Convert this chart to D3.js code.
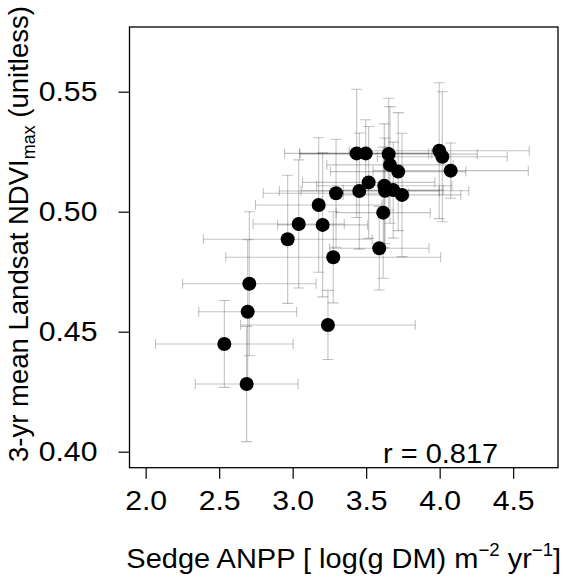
<!DOCTYPE html>
<html>
<head>
<meta charset="utf-8">
<script src="https://cdn.jsdelivr.net/npm/d3@7"></script>
<style>
  html, body { margin: 0; padding: 0; background: #fff; }
  svg text { font-family: "Liberation Sans", Arial, Helvetica, sans-serif; fill: #000; }
</style>
</head>
<body>
<svg id="chart" width="563" height="580"></svg>
<script>
// Sedge ANPP (log g DM m^-2 yr^-1), means
const anpp = [2.535, 2.687, 2.694, 2.705, 2.966, 3.041, 3.204, 3.177, 3.295, 3.276, 3.240,
              3.435, 3.497, 3.653, 3.997, 4.018, 3.662, 3.718, 4.075, 3.517, 3.623, 3.628,
              3.684, 3.744, 3.453, 3.616, 3.589];
// horizontal error (± SD)
const anppErr = [0.468, 0.350, 0.333, 0.454, 0.574, 0.310, 0.306, 0.430, 0.495, 0.731, 0.594,
                 0.490, 0.450, 0.603, 0.612, 0.442, 0.430, 0.460, 0.528, 0.450, 0.460, 0.570,
                 0.340, 0.400, 0.544, 0.320, 0.338];
// 3-yr mean Landsat NDVImax
const ndvi = [0.4449, 0.4282, 0.4583, 0.4700, 0.4885, 0.4949, 0.4945, 0.5028, 0.5077, 0.4810, 0.4528,
              0.5243, 0.5243, 0.5240, 0.5254, 0.5229, 0.5195, 0.5167, 0.5171, 0.5122, 0.5108, 0.5087,
              0.5090, 0.5070, 0.5086, 0.4996, 0.4848];
// vertical error (± SD)
const ndviErr = [0.0181, 0.0240, 0.0300, 0.0300, 0.0267, 0.0267, 0.0300, 0.0280, 0.0225, 0.0190, 0.0144,
                 0.0267, 0.0140, 0.0233, 0.0283, 0.0271, 0.0243, 0.0246, 0.0115, 0.0233, 0.0258, 0.0220,
                 0.0200, 0.0257, 0.0242, 0.0273, 0.0174];
const xTicks = [2.0, 2.5, 3.0, 3.5, 4.0, 4.5];
const yTicks = [0.40, 0.45, 0.50, 0.55];
const rLabel = "r = 0.817";

const data = anpp.map((v, i) => ({x: v, y: ndvi[i], xe: anppErr[i], ye: ndviErr[i]}));

const svg = d3.select("#chart");
const pL = 129.5, pR = 558, pT = 27, pB = 467.7;

const x = d3.scaleLinear().domain([1.89, 4.805]).range([pL, pR]);
const y = d3.scaleLinear().domain([0.39333, 0.57696]).range([pB, pT]);

svg.append("defs").append("clipPath").attr("id", "clip")
  .append("rect").attr("x", pL).attr("y", pT).attr("width", pR - pL).attr("height", pB - pT);

const eb = svg.append("g").attr("clip-path", "url(#clip)")
  .attr("stroke", "rgba(0,0,0,0.24)").attr("stroke-width", 1.1).attr("fill", "none");

const capV = 5.5, capH = 5;
data.forEach(d => {
  const cx = x(d.x), cy = y(d.y);
  const x0 = x(d.x - d.xe), x1 = x(d.x + d.xe);
  const y0 = y(d.y - d.ye), y1 = y(d.y + d.ye);
  eb.append("line").attr("x1", x0).attr("x2", x1).attr("y1", cy).attr("y2", cy);
  eb.append("line").attr("x1", x0).attr("x2", x0).attr("y1", cy - capH).attr("y2", cy + capH);
  eb.append("line").attr("x1", x1).attr("x2", x1).attr("y1", cy - capH).attr("y2", cy + capH);
  eb.append("line").attr("x1", cx).attr("x2", cx).attr("y1", y0).attr("y2", y1);
  eb.append("line").attr("x1", cx - capV).attr("x2", cx + capV).attr("y1", y0).attr("y2", y0);
  eb.append("line").attr("x1", cx - capV).attr("x2", cx + capV).attr("y1", y1).attr("y2", y1);
});

svg.append("g").selectAll("circle").data(data).join("circle")
  .attr("cx", d => x(d.x)).attr("cy", d => y(d.y)).attr("r", 7).attr("fill", "#000");

svg.append("rect").attr("x", pL).attr("y", pT).attr("width", pR - pL).attr("height", pB - pT)
  .attr("fill", "none").attr("stroke", "#000").attr("stroke-width", 1.3);

const sx = 1.12;
const xAxis = d3.axisBottom(x).tickValues(xTicks).tickFormat(d3.format(".1f")).tickSize(11).tickPadding(12);
const gx = svg.append("g").attr("transform", `translate(0,${pB})`).call(xAxis);
gx.select(".domain").remove();
gx.selectAll("line").attr("stroke", "#000").attr("stroke-width", 1.2);
gx.selectAll("text").attr("font-size", 27).attr("font-family", "Liberation Sans, Arial, sans-serif")
  .attr("fill", "#000").attr("transform", `scale(${sx},1)`);

const yAxis = d3.axisLeft(y).tickValues(yTicks).tickFormat(d3.format(".2f")).tickSize(11).tickPadding(21);
const gy = svg.append("g").attr("transform", `translate(${pL},0)`).call(yAxis);
gy.select(".domain").remove();
gy.selectAll("line").attr("stroke", "#000").attr("stroke-width", 1.2);
gy.selectAll("text").attr("font-size", 27).attr("font-family", "Liberation Sans, Arial, sans-serif")
  .attr("fill", "#000").attr("x", -32 / sx).attr("transform", `scale(${sx},1)`);

svg.append("text").attr("transform", "translate(383,463) scale(1.035,1)").attr("font-size", 28).text(rLabel);

const xl = svg.append("text").attr("transform", `translate(${(pL + pR) / 2},568) scale(1.035,1)`)
  .attr("text-anchor", "middle").attr("font-size", 28);
xl.append("tspan").text("Sedge ANPP [ log(g DM) m");
xl.append("tspan").attr("font-size", 18).attr("dy", -12).text("\u22122");
xl.append("tspan").attr("dy", 12).text(" yr");
xl.append("tspan").attr("font-size", 18).attr("dy", -12).text("\u22121");
xl.append("tspan").attr("dy", 12).text("]");

const yl = svg.append("text").attr("transform", "translate(28,234) rotate(-90)")
  .attr("text-anchor", "middle").attr("font-size", 27.5);
yl.append("tspan").text("3-yr mean Landsat NDVI");
yl.append("tspan").attr("font-size", 18).attr("dy", 7).text("max");
yl.append("tspan").attr("dy", -7).text(" (unitless)");
</script>
</body>
</html>
